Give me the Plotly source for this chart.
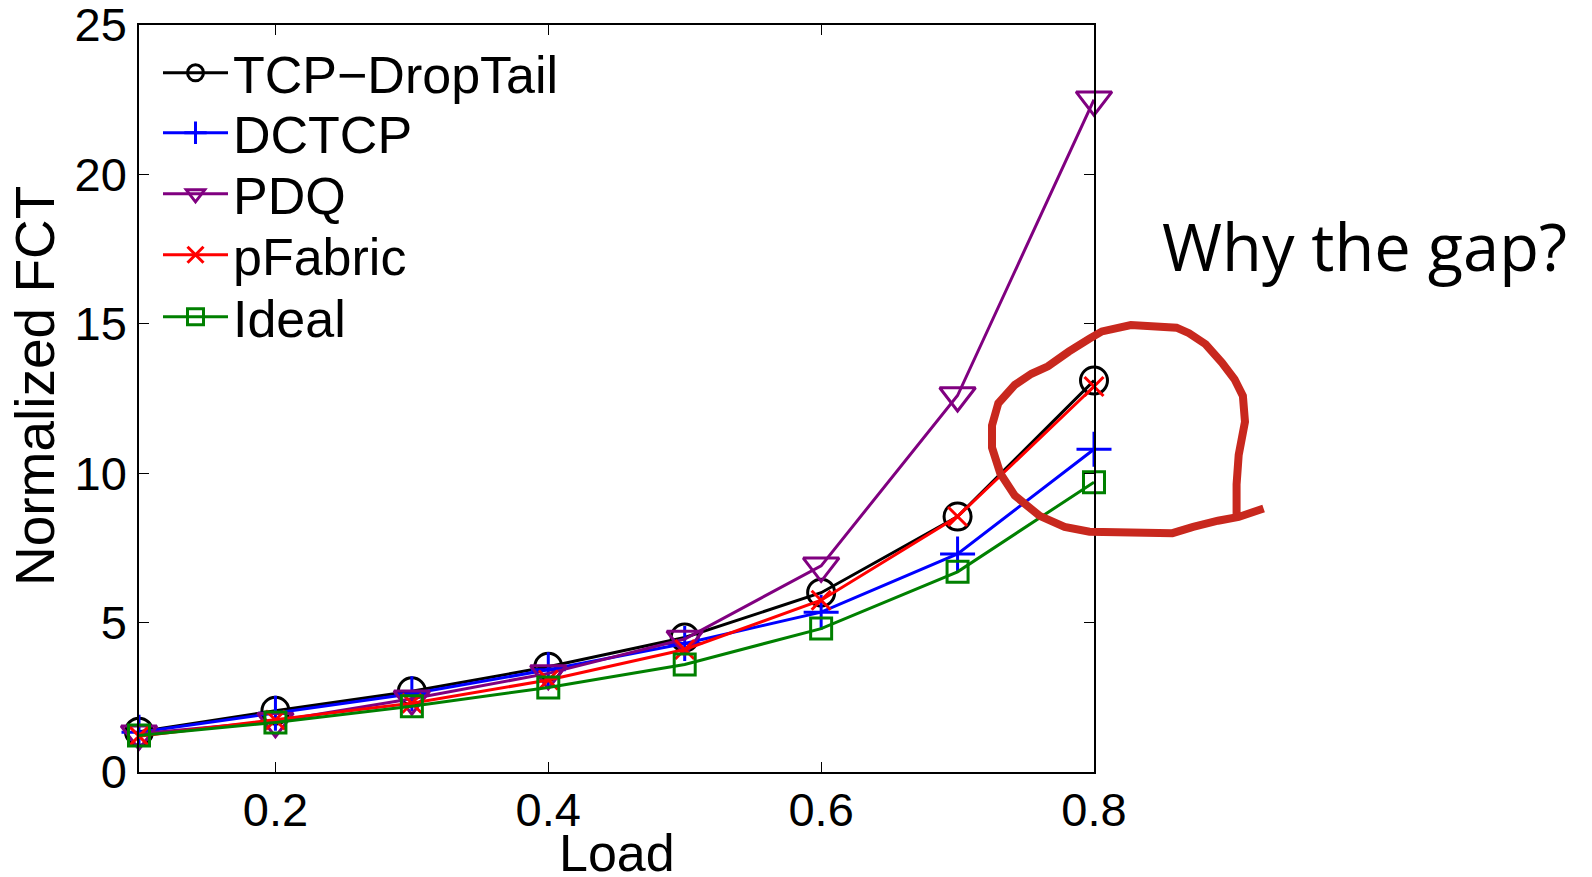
import plotly.graph_objects as go

# ---- data ----
load = [0.1, 0.2, 0.3, 0.4, 0.5, 0.6, 0.7, 0.8]
tcp_droptail = [1.35, 2.05, 2.7, 3.52, 4.5, 6.0, 8.55, 13.1]
dctcp = [1.33, 1.97, 2.62, 3.42, 4.3, 5.35, 7.3, 10.8]
pdq = [1.28, 1.7, 2.45, 3.3, 4.45, 6.9, 12.6, 22.5]
pfabric = [1.2, 1.74, 2.3, 3.08, 4.1, 5.75, 8.55, 12.9]
ideal = [1.22, 1.66, 2.2, 2.83, 3.6, 4.8, 6.7, 9.7]

series_names = ["TCP\u2212DropTail", "DCTCP", "PDQ", "pFabric", "Ideal"]
x_ticks = [0.2, 0.4, 0.6, 0.8]
y_ticks = [0, 5, 10, 15, 20, 25]

# freehand highlight stroke (figure pixel coords), annotation decoration
stroke_px = [(1236.6, 514), (1236.6, 484.5), (1238.7, 455), (1245, 421.8), (1242.9, 395.9),
             (1234.6, 379.3), (1222.1, 362.7), (1205.6, 344.3), (1189, 333.2), (1176.5, 327.7),
             (1130.9, 325.1), (1101.9, 331.4), (1089.5, 338.7), (1068.7, 351.7), (1048, 366.4),
             (1031.4, 373.8), (1014.8, 384.9), (998.3, 403.3), (992, 425.5), (992, 447.6),
             (1000.3, 473.4), (1014.8, 495.6), (1039.7, 515.9), (1064.6, 526.9), (1089.5, 531.7),
             (1172.4, 533.2), (1193.1, 526.9), (1218, 520.7), (1238.7, 517), (1263.6, 508.5)]

W, H = 1592, 877
L, R, T, B = 139, 498, 25, 105
pw, ph = W - L - R, H - T - B

def to_paper(px, py):
    return (px - L) / pw, (H - B - py) / ph

styles = [
    dict(color="black", symbol="circle-open", size=27),
    dict(color="#0000ff", symbol="cross-thin-open", size=25),
    dict(color="#800080", symbol="triangle-down-open", size=31),
    dict(color="#ff0000", symbol="x-thin-open", size=19),
    dict(color="#008000", symbol="square-open", size=21),
]
values = [tcp_droptail, dctcp, pdq, pfabric, ideal]
legend_rows_px = [73, 133, 194, 255, 317]  # vertical centre of each legend row

font = "Liberation Sans, Arial, Helvetica, sans-serif"
fig = go.Figure()
legend_layout = {}
for i, (name, vals, st) in enumerate(zip(series_names, values, styles)):
    lg = "legend" if i == 0 else f"legend{i + 1}"
    fig.add_trace(go.Scatter(
        x=load, y=vals, name=name, mode="lines+markers", cliponaxis=False,
        legend=lg,
        line=dict(color=st["color"], width=3),
        marker=dict(symbol=st["symbol"], size=st["size"], color=st["color"],
                    line=dict(color=st["color"], width=3)),
    ))
    lx, ly = to_paper(158, legend_rows_px[i])
    legend_layout[lg] = dict(x=lx, y=ly, xanchor="left", yanchor="middle",
                             bgcolor="rgba(0,0,0,0)", font=dict(size=52, family=font),
                             itemwidth=65, borderwidth=0)

path = ""
for i, (px, py) in enumerate(stroke_px):
    u, v = to_paper(px, py)
    path += ("M" if i == 0 else "L") + f"{u:.4f},{v:.4f} "
fig.add_shape(type="path", xref="paper", yref="paper", path=path.strip(),
              line=dict(color="#c8281e", width=8))

fig.update_layout(
    width=W, height=H,
    margin=dict(l=L, r=R, t=T, b=B, autoexpand=False),
    paper_bgcolor="white", plot_bgcolor="white",
    font=dict(family=font, color="black"),
    showlegend=True,
    xaxis=dict(range=[0.1, 0.8], tickvals=x_ticks, ticktext=[str(t) for t in x_ticks],
               ticks="inside", ticklen=10, tickcolor="black", tickwidth=1,
               showline=True, linecolor="black", linewidth=1.5, mirror="ticks",
               showgrid=False, zeroline=False, tickfont=dict(size=47, family=font),
               ticklabelstandoff=-4, ticklabeloverflow="allow"),
    yaxis=dict(range=[0, 25], tickvals=y_ticks,
               ticks="inside", ticklen=10, tickcolor="black", tickwidth=1,
               showline=True, linecolor="black", linewidth=1.5, mirror="ticks",
               showgrid=False, zeroline=False, tickfont=dict(size=47, family=font),
               ticklabelstandoff=1, ticklabeloverflow="allow"),
    annotations=[
        dict(text="Load", xref="paper", yref="paper", x=0.5, y=to_paper(0, 853)[1],
             xanchor="center", yanchor="middle", showarrow=False,
             font=dict(size=52, family=font)),
        dict(text="Normalized FCT", xref="paper", yref="paper", x=to_paper(35, 0)[0],
             y=to_paper(0, 386)[1], xanchor="center", yanchor="middle", showarrow=False,
             textangle=-90, font=dict(size=55, family=font)),
        dict(text="Why the gap?", xref="paper", yref="paper", x=to_paper(1160, 0)[0],
             y=to_paper(0, 246)[1], xanchor="left", yanchor="middle", showarrow=False,
             font=dict(size=65, family="Open Sans, Lato, sans-serif")),
    ],
    **legend_layout,
)

fig.write_html("out.html", config={"displayModeBar": False},
               post_script="document.body.style.margin='0px';")
